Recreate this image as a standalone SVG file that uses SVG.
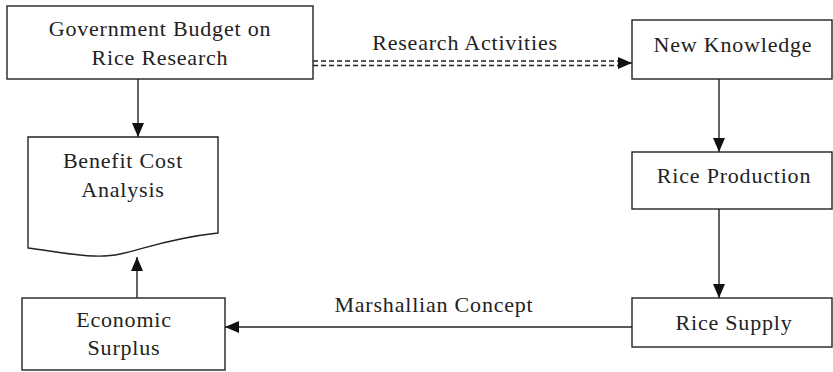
<svg xmlns="http://www.w3.org/2000/svg" width="833" height="372" viewBox="0 0 833 372">
<style>
.box{fill:#fff;stroke:#222;stroke-width:1.4}
.ln{fill:none;stroke:#222;stroke-width:1.4}
.dash{fill:none;stroke:#222;stroke-width:1.3;stroke-dasharray:5 3}
text{font-family:"Liberation Serif","Times New Roman",serif;font-size:22px;fill:#222;text-anchor:middle;letter-spacing:0.8px}
</style>
<defs>
<marker id="ah" viewBox="0 0 14 12" refX="14" refY="6" markerWidth="14" markerHeight="12" markerUnits="userSpaceOnUse" orient="auto">
<path d="M0,0 L14,6 L0,12 Z" fill="#111"/>
</marker>
</defs>
<rect width="833" height="372" fill="#fff"/>
<g id="connectors">
<line class="ln" x1="138" y1="79" x2="138" y2="137" marker-end="url(#ah)"/>
<line class="dash" x1="313" y1="61" x2="620" y2="61"/>
<line class="dash" x1="313" y1="65.5" x2="620" y2="65.5"/>
<line class="ln" x1="618" y1="63" x2="632" y2="63" stroke="none" marker-end="url(#ah)"/>
<line class="ln" x1="719" y1="79" x2="719" y2="152" marker-end="url(#ah)"/>
<line class="ln" x1="719" y1="209" x2="719" y2="298" marker-end="url(#ah)"/>
<line class="ln" x1="632" y1="327" x2="225" y2="327" marker-end="url(#ah)"/>
<line class="ln" x1="137" y1="298" x2="137" y2="257" marker-end="url(#ah)"/>
<text x="465" y="50">Research Activities</text>
<text x="434" y="312">Marshallian Concept</text>
</g>
<g id="gov">
<rect class="box" x="7" y="6" width="306" height="73"/>
<text x="160" y="36">Government Budget on</text>
<text x="160" y="65">Rice Research</text>
</g>
<g id="bca">
<path class="box" d="M28,137 L218,137 L218,233 C170,238 140,250 120,254 C95,260 60,252 28,248 Z"/>
<text x="123" y="168">Benefit Cost</text>
<text x="123" y="197">Analysis</text>
</g>
<g id="econ">
<rect class="box" x="22" y="298" width="203" height="72"/>
<text x="124" y="327">Economic</text>
<text x="124" y="355">Surplus</text>
</g>
<g id="newknow">
<rect class="box" x="632" y="20" width="200" height="59"/>
<text x="733" y="52">New Knowledge</text>
</g>
<g id="prod">
<rect class="box" x="632" y="152" width="200" height="57"/>
<text x="734" y="183">Rice Production</text>
</g>
<g id="supply">
<rect class="box" x="632" y="298" width="200" height="49"/>
<text x="734" y="330">Rice Supply</text>
</g>
</svg>
